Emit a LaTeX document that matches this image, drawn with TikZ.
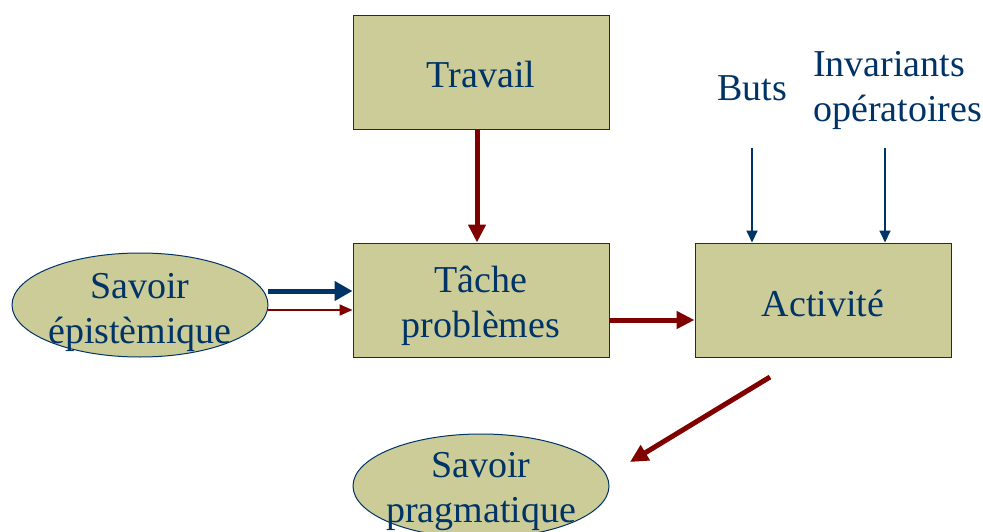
\documentclass[tikz,border=0pt]{standalone}
\usepackage{fontspec}
\setmainfont{Liberation Serif}
\usetikzlibrary{shapes.geometric,arrows.meta}
\definecolor{txtblue}{RGB}{0,51,102}
\definecolor{boxfill}{RGB}{204,204,153}
\definecolor{darkred}{RGB}{128,0,0}
\tikzset{
  box/.style={draw=txtblue, line width=1pt, fill=boxfill, minimum width=256pt, minimum height=114pt, inner sep=0pt},
  oval/.style={ellipse, draw=txtblue, line width=1pt, fill=boxfill, minimum width=256pt, minimum height=104pt, inner sep=0pt},
  lbl/.style={align=center, text=txtblue, inner sep=0pt, font=\fontsize{38}{45}\selectfont},
  redthick/.style={draw=darkred, line width=5pt, -{Triangle[length=18pt,width=17pt]}},
  redthin/.style={draw=darkred, line width=1.8pt, -{Triangle[length=13pt,width=11pt]}},
  bluethick/.style={draw=txtblue, line width=5pt, -{Triangle[length=18pt,width=19pt]}},
  bluethin/.style={draw=txtblue, line width=1.8pt, -{Triangle[length=12pt,width=11pt]}}
}
\begin{document}
\begin{tikzpicture}[x=1pt,y=-1pt]
\useasboundingbox (0,0) rectangle (983,532);
\node[box] (trav) at (481,73) {};
\node[box] (tache) at (481,300) {};
\node[box] (act) at (823,300) {};
\node[oval] (epi) at (140,305) {};
\node[oval] (prag) at (481,486) {};
\node[lbl] (travT) at ([yshift=-2pt]trav.center) {Travail};
\node[lbl] (tacheT) at ([yshift=-6pt]tache.center) {Tâche\\problèmes};
\node[lbl] (actT) at ([yshift=-3pt]act.center) {Activité};
\node[lbl] (epiT) at ([yshift=-7pt]epi.center) {Savoir\\épistèmique};
\node[lbl] (pragT) at ([yshift=-6pt]prag.center) {Savoir\\pragmatique};
\node[lbl] (buts) at (752,88) {Buts};
\node[lbl, align=left, anchor=west] (inv) at (813,90) {Invariants\\opératoires};
\coordinate (b1) at (752,148);
\coordinate (i1) at (885,148);
\coordinate (e1) at (268,291);
\coordinate (e2) at (268,310);
\coordinate (t1) at (609,320);
\coordinate (ps) at (770,377);
\coordinate (pe) at (630,462);
\draw[redthick] (trav.south -| 477,0) -- (tache.north -| 477,0);
\draw[bluethick] (e1) -- (e1 -| tache.west);
\draw[redthin] (e2) -- (e2 -| tache.west);
\draw[redthick] (t1) -- (t1 -| act.west);
\draw[bluethin] (b1) -- (b1 |- act.north);
\draw[bluethin] (i1) -- (i1 |- act.north);
\draw[redthick] (ps) -- (pe);
\end{tikzpicture}
\end{document}
